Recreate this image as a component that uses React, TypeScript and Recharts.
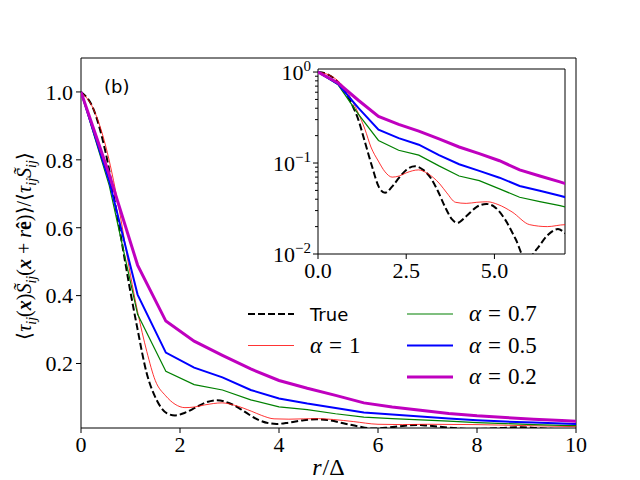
import React from 'react';
import { LineChart, Line, XAxis, YAxis, ReferenceArea, Legend, Label } from 'recharts';

// coarse grid of the filtered-model curves (alpha < 1)
const knotR = [0, 0.571, 1.143, 1.714, 2.286, 2.857, 3.429, 4.0, 4.571, 5.143, 5.714, 6.286, 6.857, 7.429, 8.0, 8.571, 9.143, 9.714, 10];
const alpha02 = [1, 0.757, 0.49, 0.325, 0.266, 0.224, 0.184, 0.15, 0.127, 0.106, 0.084, 0.072, 0.062, 0.053, 0.046, 0.041, 0.036, 0.032, 0.03];
const alpha05 = [1, 0.737, 0.403, 0.232, 0.188, 0.159, 0.122, 0.097, 0.082, 0.069, 0.056, 0.0496, 0.0437, 0.038, 0.033, 0.029, 0.026, 0.023, 0.022];
const alpha07 = [1, 0.724, 0.345, 0.177, 0.138, 0.122, 0.093, 0.072, 0.064, 0.052, 0.042, 0.0376, 0.034, 0.03, 0.026, 0.023, 0.02, 0.018, 0.017];

// smooth curves
const trueR = [0, 0.25, 0.5, 0.75, 1.0, 1.13, 1.33, 1.53, 1.73, 1.9, 2.1, 2.3, 2.5, 2.75, 3.0, 3.2, 3.4, 3.6, 3.8, 3.95, 4.2, 4.5, 4.77, 5.0, 5.3, 5.6, 5.9, 6.2, 6.5, 6.8, 7.0, 7.3, 7.6, 7.9, 8.2, 8.6, 8.9, 9.2, 9.6, 10];
const trueV = [1.0, 0.95, 0.82, 0.62, 0.41, 0.31, 0.17, 0.092, 0.054, 0.047, 0.055, 0.069, 0.084, 0.092, 0.083, 0.068, 0.049, 0.033, 0.024, 0.022, 0.026, 0.033, 0.0355, 0.033, 0.024, 0.0146, 0.0085, 0.0113, 0.016, 0.0188, 0.017, 0.013, 0.009, 0.007, 0.008, 0.011, 0.012, 0.01, 0.007, 0.007];
const alpha1R = [0, 0.25, 0.5, 0.75, 1.0, 1.14, 1.33, 1.5, 1.71, 1.9, 2.1, 2.3, 2.5, 2.85, 3.1, 3.45, 3.65, 3.9, 4.2, 4.5, 4.8, 5.1, 5.5, 6.0, 6.5, 7.0, 8.0, 9.0, 10];
const alpha1V = [1.0, 0.95, 0.84, 0.67, 0.46, 0.355, 0.235, 0.15, 0.105, 0.08, 0.07, 0.072, 0.078, 0.084, 0.077, 0.059, 0.047, 0.037, 0.036, 0.037, 0.0375, 0.035, 0.029, 0.021, 0.02, 0.021, 0.02, 0.017, 0.014];

const mainXTicks = [0, 2, 4, 6, 8, 10];
const mainYTicks = [0.2, 0.4, 0.6, 0.8, 1.0];
const insetXTicks = [0, 2.5, 5];
const insetYMajor = [0.01, 0.1, 1];
const insetYMinor = [0.02, 0.03, 0.04, 0.05, 0.06, 0.07, 0.08, 0.09, 0.2, 0.3, 0.4, 0.5, 0.6, 0.7, 0.8, 0.9];
const insetExp: Record<string, string> = { '0.01': '−2', '0.1': '−1', '1': '0' };

const zip = (xs: number[], ys: number[]) => xs.map((r, i) => ({ r, v: ys[i] }));
const dTrue = zip(trueR, trueV);
const dA1 = zip(alpha1R, alpha1V);
const dA07 = zip(knotR, alpha07);
const dA05 = zip(knotR, alpha05);
const dA02 = zip(knotR, alpha02);

const SERIF = 'Liberation Serif';
const SANS = 'DejaVu Sans';
const tickFont = { fontFamily: SERIF, fontSize: 22, fill: '#000' };
const tickLineStyle = { stroke: '#000', strokeWidth: 1 };

const InsetYTick = (p: any) => {
  const v = Number(p.payload.value);
  const key = String(v);
  const major = insetExp[key] !== undefined;
  return (
    <g>
      <line x1={p.x - (major ? 5 : 3)} x2={p.x} y1={p.y} y2={p.y} stroke="#000" strokeWidth={1} />
      {major && (
        <text className="recharts-text" x={p.x - 7} y={p.y + 7.5} textAnchor="end" fontFamily={SERIF} fontSize={22} fill="#000">
          10
          <tspan dy={-9} fontSize={15}>{insetExp[key]}</tspan>
        </text>
      )}
    </g>
  );
};

const legendItems = [
  { col: 0, row: 0, label: 'True', math: false, color: '#000', w: 2, dash: '7 3' },
  { col: 0, row: 1, label: '1', math: true, color: '#ff0000', w: 0.8, dash: undefined },
  { col: 1, row: 0, label: '0.7', math: true, color: '#008000', w: 1.2, dash: undefined },
  { col: 1, row: 1, label: '0.5', math: true, color: '#0000ff', w: 2, dash: undefined },
  { col: 1, row: 2, label: '0.2', math: true, color: '#bf00bf', w: 3, dash: undefined },
];

const renderLegend = () => (
  <svg width={330} height={100} style={{ overflow: 'visible' }}>
    {legendItems.map((it) => {
      const hx = it.col === 0 ? 8 : 167;
      const tx = it.col === 0 ? 70 : 229;
      const cy = 18 + it.row * 31.5;
      return (
        <g key={it.label + it.col}>
          <line x1={hx} x2={hx + 46} y1={cy} y2={cy} stroke={it.color} strokeWidth={it.w} strokeDasharray={it.dash} />
          {it.math ? (
            <text className="recharts-text" x={tx} y={cy + 7} fontFamily={SERIF} fontSize={23} fill="#000">
              <tspan fontStyle="italic">α</tspan><tspan dx={7}>=</tspan><tspan dx={7}>{it.label}</tspan>
            </text>
          ) : (
            <text className="recharts-text" x={tx} y={cy + 7} fontFamily={SANS} fontSize={18} fill="#000">{it.label}</text>
          )}
        </g>
      );
    })}
  </svg>
);

const XLabel = (p: any) => {
  const vb = p.viewBox || { x: 81, y: 428, width: 495, height: 40 };
  return (
    <text className="recharts-text" x={vb.x + vb.width / 2} y={475} textAnchor="middle" fontFamily={SERIF} fontSize={24} fill="#000">
      <tspan fontStyle="italic">r</tspan><tspan dx={1}>/Δ</tspan>
    </text>
  );
};

const YLabel = (p: any) => {
  const vb = p.viewBox || { x: 11, y: 58, width: 70, height: 370 };
  const cx = 31;
  const cy = vb.y + vb.height / 2 + 3;
  return (
    <text className="recharts-text" transform={`translate(${cx},${cy}) rotate(-90)`} textAnchor="middle" fontFamily={SERIF} fontSize={20} fill="#000">
      ⟨<tspan fontStyle="italic">τ</tspan><tspan fontSize={14} dy={5} fontStyle="italic">ij</tspan><tspan dy={-5}>(</tspan><tspan fontWeight="bold" fontStyle="italic">x</tspan>)<tspan fontStyle="italic">S̃</tspan><tspan fontSize={14} dy={5} fontStyle="italic">ij</tspan><tspan dy={-5}>(</tspan><tspan fontWeight="bold" fontStyle="italic">x</tspan> + <tspan fontStyle="italic">r</tspan><tspan fontWeight="bold">ê</tspan>)⟩/⟨<tspan fontStyle="italic">τ</tspan><tspan fontSize={14} dy={5} fontStyle="italic">ij</tspan><tspan dy={-5} fontStyle="italic">S̃</tspan><tspan fontSize={14} dy={5} fontStyle="italic">ij</tspan><tspan dy={-5}>⟩</tspan>
    </text>
  );
};

export default function App() {
  return (
    <div style={{ position: 'absolute', left: 0, top: 0, width: 640, height: 480, background: '#fff' }}>
      <div style={{ position: 'absolute', left: 0, top: 0 }}>
        <LineChart width={640} height={480} margin={{ top: 58, right: 64, bottom: 12, left: 11 }}>
          <XAxis dataKey="r" type="number" domain={[0, 10]} ticks={mainXTicks} allowDataOverflow interval={0}
            axisLine={false} tickLine={tickLineStyle} tickSize={5} tickMargin={3} height={40} tick={tickFont}>
            <Label content={<XLabel />} />
          </XAxis>
          <YAxis type="number" domain={[0.01, 1.1]} ticks={mainYTicks} allowDataOverflow interval={0}
            axisLine={false} tickLine={tickLineStyle} tickSize={5} tickMargin={3} width={70} tick={tickFont}
            tickFormatter={(v: number) => v.toFixed(1)}>
            <Label content={<YLabel />} />
          </YAxis>
          <ReferenceArea x1={0} x2={10} y1={0.01} y2={1.1} fill="none" stroke="#000" strokeWidth={1} ifOverflow="visible" />
          <Line data={dTrue} dataKey="v" type="monotone" stroke="#000" strokeWidth={2} strokeDasharray="7 3" dot={false} isAnimationActive={false} />
          <Line data={dA1} dataKey="v" type="monotone" stroke="#ff0000" strokeWidth={0.8} dot={false} isAnimationActive={false} />
          <Line data={dA07} dataKey="v" type="linear" stroke="#008000" strokeWidth={1.2} dot={false} isAnimationActive={false} />
          <Line data={dA05} dataKey="v" type="linear" stroke="#0000ff" strokeWidth={2} dot={false} isAnimationActive={false} />
          <Line data={dA02} dataKey="v" type="linear" stroke="#bf00bf" strokeWidth={3} dot={false} isAnimationActive={false} />
          <Legend content={renderLegend} layout="horizontal" verticalAlign="middle" align="center"
            wrapperStyle={{ left: 240, top: 296, width: 330, height: 100 }} />
        </LineChart>
      </div>
      <div style={{ position: 'absolute', left: 0, top: 0 }}>
        <LineChart width={640} height={480} margin={{ top: 69, right: 75, bottom: 196, left: 258 }}>
          <XAxis dataKey="r" type="number" domain={[0, 7]} ticks={insetXTicks} allowDataOverflow interval={0}
            axisLine={false} tickLine={tickLineStyle} tickSize={5} tickMargin={3} height={30} tick={tickFont}
            tickFormatter={(v: number) => v.toFixed(1)} />
          <YAxis type="number" scale="log" domain={[0.01, 1.08]} ticks={[...insetYMajor, ...insetYMinor]} allowDataOverflow
            axisLine={false} tickLine={false} tickSize={0} tickMargin={0} width={60} tick={<InsetYTick />} interval={0} />
          <ReferenceArea x1={0} x2={7} y1={0.01} y2={1.08} fill="#fff" fillOpacity={0} stroke="#000" strokeWidth={1} ifOverflow="visible" />
          <Line data={dTrue} dataKey="v" type="monotone" stroke="#000" strokeWidth={2} strokeDasharray="7 3" dot={false} isAnimationActive={false} />
          <Line data={dA1} dataKey="v" type="monotone" stroke="#ff0000" strokeWidth={0.8} dot={false} isAnimationActive={false} />
          <Line data={dA07} dataKey="v" type="linear" stroke="#008000" strokeWidth={1.2} dot={false} isAnimationActive={false} />
          <Line data={dA05} dataKey="v" type="linear" stroke="#0000ff" strokeWidth={2} dot={false} isAnimationActive={false} />
          <Line data={dA02} dataKey="v" type="linear" stroke="#bf00bf" strokeWidth={3} dot={false} isAnimationActive={false} />
        </LineChart>
      </div>
      <svg width={640} height={480} style={{ position: 'absolute', left: 0, top: 0, pointerEvents: 'none' }}>
        <text className="recharts-text" x={104} y={93} fontFamily={SANS} fontSize={18} fill="#000">(b)</text>
      </svg>
    </div>
  );
}
